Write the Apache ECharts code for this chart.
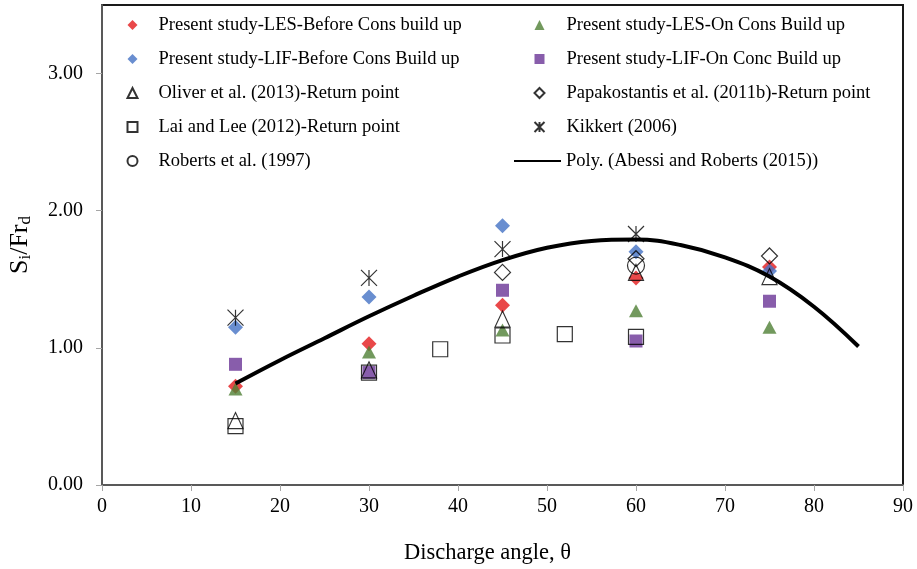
<!DOCTYPE html>
<html>
<head>
<meta charset="utf-8">
<script src="https://cdn.jsdelivr.net/npm/echarts@6/dist/echarts.min.js"></script>
<style>
html, body { margin: 0; padding: 0; background: #fff; }
#main { width: 917px; height: 569px; }
</style>
</head>
<body>
<div id="main"></div>
<script>
// data
var angles = [15, 30, 45, 60, 75];
var lesBefore = [0.72, 1.03, 1.31, 1.51, 1.59];
var lesOn = [0.70, 0.97, 1.13, 1.27, 1.15];
var lifBefore = [1.15, 1.37, 1.89, 1.70, 1.56];
var lifOn = [0.88, 0.82, 1.42, 1.05, 1.34];
var oliver = [0.47, 0.84, 1.21, 1.55, 1.52];

var papaAngles = [45, 60, 75];
var papa = [1.55, 1.65, 1.67];

var laiAngles = [15, 30, 38, 45, 52, 60];
var lai = [0.43, 0.82, 0.99, 1.09, 1.10, 1.08];

var kikkertAngles = [15, 30, 45, 60];
var kikkert = [1.22, 1.51, 1.72, 1.83];

var robertsAngles = [60];
var roberts = [1.60];

var polyAngles = [15, 20, 25, 30, 35, 40, 45, 50, 55, 60, 65, 70, 75, 80, 85];
var poly = [0.74, 0.91, 1.07, 1.23, 1.38, 1.52, 1.64, 1.73, 1.78, 1.79, 1.75, 1.66, 1.52, 1.30, 1.01];

var yTicks = [0, 1, 2, 3];

var serif = "'Liberation Serif', 'Times New Roman', serif";

function pts(xs, ys) {
	return xs.map(function (x, i) { return [x, ys[i]]; });
}

var starPath = 'path://M0,0L16,16M16,0L0,16M8,0L8,16';

var myChart = echarts.init(document.getElementById('main'));

function legendBox(left, top, w, padLeft, names) {
	return {
		orient: 'vertical', left: left, top: top, padding: 0,
		itemWidth: w, itemHeight: 10, itemGap: 14,
		textStyle: { fontFamily: serif, fontSize: 18.5, color: '#000', lineHeight: 20, padding: [0, 0, 0, padLeft] },
		data: names
	};
}

var option = {
	backgroundColor: '#fff',
	animation: false,
	grid: {
		left: 102, right: 14, top: 5, bottom: 84, outerBoundsMode: 'none',
		show: true, borderColor: '#1a1a1a', borderWidth: 2
	},
	legend: [
		legendBox(125, 15, 10, 16, ['Present study-LES-Before Cons build up', 'Present study-LIF-Before Cons Build up',
			'Oliver et al. (2013)-Return point', 'Lai and Lee (2012)-Return point', 'Roberts et al. (1997)']),
		legendBox(532, 15, 10, 17, ['Present study-LES-On Cons Build up', 'Present study-LIF-On Conc Build up',
			'Papakostantis et al. (2011b)-Return point', 'Kikkert (2006)']),
		// line only, no dot in the middle
		legendBox(513, 151, 47, 0, [{
			name: 'Poly. (Abessi and Roberts (2015))',
			itemStyle: { color: 'rgba(0,0,0,0)', borderWidth: 0 }
		}])
	],
	xAxis: {
		type: 'value', min: 0, max: 90, interval: 10,
		name: 'Discharge angle, θ', nameLocation: 'middle', nameGap: 57,
		nameTextStyle: { fontFamily: serif, fontSize: 22.5, color: '#000', padding: [0, 30, 0, 0] },
		axisLine: { lineStyle: { color: '#595959', width: 2 } },
		axisTick: { length: 6, lineStyle: { color: '#a6a6a6' } },
		axisLabel: { fontFamily: serif, fontSize: 20, color: '#000', margin: 12 },
		splitLine: { show: false }
	},
	yAxis: {
		type: 'value', min: 0, max: 3.5,
		name: '{m|S}{s|i}{m|/Fr}{s|d}', nameLocation: 'middle', nameGap: 68,
		nameTextStyle: {
			fontFamily: serif, color: '#000',
			rich: {
				m: { fontFamily: serif, fontSize: 26, lineHeight: 28, verticalAlign: 'middle', color: '#000' },
				s: { fontFamily: serif, fontSize: 17, lineHeight: 15, verticalAlign: 'bottom', color: '#000' }
			}
		},
		axisLine: { show: true, lineStyle: { color: '#595959', width: 2 } },
		axisTick: { show: true, length: 6, customValues: yTicks, lineStyle: { color: '#a6a6a6' } },
		axisLabel: {
			customValues: yTicks, fontFamily: serif, fontSize: 20, color: '#000', margin: 19,
			formatter: function (v) { return v.toFixed(2); }
		},
		splitLine: { show: false }
	},
	series: [
		{
			name: 'Present study-LES-Before Cons build up', type: 'scatter',
			symbol: 'diamond', symbolSize: 15,
			itemStyle: { color: '#e41a1c' },
			data: pts(angles, lesBefore)
		},
		{
			name: 'Present study-LES-On Cons Build up', type: 'scatter',
			symbol: 'triangle', symbolSize: [14, 13],
			itemStyle: { color: '#4f7f35' },
			data: pts(angles, lesOn)
		},
		{
			name: 'Present study-LIF-Before Cons Build up', type: 'scatter',
			symbol: 'diamond', symbolSize: 15,
			itemStyle: { color: '#4472c4' },
			data: pts(angles, lifBefore)
		},
		{
			name: 'Present study-LIF-On Conc Build up', type: 'scatter',
			symbol: 'rect', symbolSize: 13,
			itemStyle: { color: '#6a3596' },
			data: pts(angles, lifOn)
		},
		{
			name: 'Oliver et al. (2013)-Return point', type: 'scatter',
			symbol: 'triangle', symbolSize: [15, 16],
			itemStyle: { color: 'none', borderColor: '#000', borderWidth: 1.2 },
			data: pts(angles, oliver)
		},
		{
			name: 'Papakostantis et al. (2011b)-Return point', type: 'scatter',
			symbol: 'diamond', symbolSize: 16,
			itemStyle: { color: 'none', borderColor: '#000', borderWidth: 1.2 },
			data: pts(papaAngles, papa)
		},
		{
			name: 'Lai and Lee (2012)-Return point', type: 'scatter',
			symbol: 'rect', symbolSize: 15,
			itemStyle: { color: 'none', borderColor: '#000', borderWidth: 1.2 },
			data: pts(laiAngles, lai)
		},
		{
			name: 'Kikkert (2006)', type: 'scatter',
			symbol: starPath, symbolSize: 16,
			itemStyle: { color: 'none', borderColor: '#000', borderWidth: 1.2 },
			data: pts(kikkertAngles, kikkert)
		},
		{
			name: 'Roberts et al. (1997)', type: 'scatter',
			symbol: 'circle', symbolSize: 17,
			itemStyle: { color: 'none', borderColor: '#000', borderWidth: 1.2 },
			data: pts(robertsAngles, roberts)
		},
		{
			name: 'Poly. (Abessi and Roberts (2015))', type: 'line',
			smooth: 0.4, symbol: 'none',
			lineStyle: { color: '#000', width: 4 },
			itemStyle: { color: '#000' },
			data: pts(polyAngles, poly)
		}
	]
};

myChart.setOption(option);
window.onresize = myChart.resize;
</script>
</body>
</html>
